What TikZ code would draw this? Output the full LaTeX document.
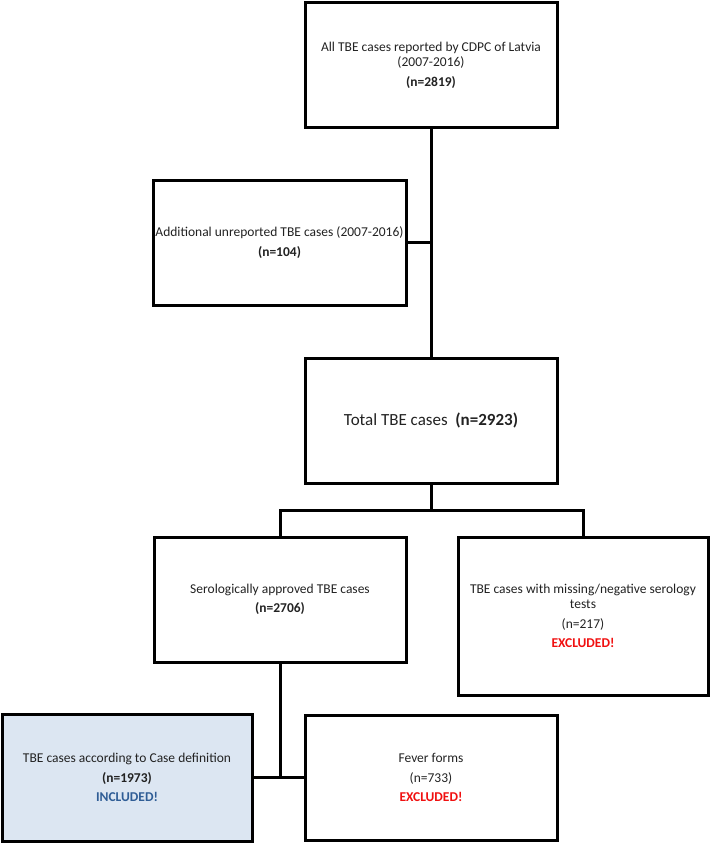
\documentclass[tikz,border=0pt]{standalone}
\usepackage{fontspec}
\setmainfont{Carlito}
\usetikzlibrary{calc}
\definecolor{boxblue}{HTML}{DCE6F2}
\definecolor{incblue}{HTML}{2F5D96}
\definecolor{exred}{HTML}{F01010}
\definecolor{txt}{HTML}{222222}
\begin{document}
\begin{tikzpicture}[x=1pt,y=-1pt,
  box/.style={draw=black, line width=3pt, rectangle, align=center, inner sep=2pt,
    text=txt, font=\fontsize{13.5}{15.5}\selectfont},
  conn/.style={draw=black, line width=3pt}]
\useasboundingbox (0,0) rectangle (711,843);
\node[box, minimum width=252pt, minimum height=124pt] (b1) at (431,65)
  {All TBE cases reported by CDPC of Latvia\\(2007-2016)\\[4pt]\textbf{(n=2819)}};
\node[box, minimum width=253pt, minimum height=125pt, inner sep=0pt] (b2) at (279.5,242.5)
  {Additional unreported TBE cases (2007-2016)\\[4pt]\textbf{(n=104)}};
\node[box, minimum width=252pt, minimum height=125pt, font=\fontsize{17}{20}\selectfont] (b3) at (431,420.5)
  {Total TBE cases\ \ \textbf{(n=2923)}};
\node[box, minimum width=252pt, minimum height=125pt] (b4) at (280,599.5)
  {Serologically approved TBE cases\\[4pt]\textbf{(n=2706)}};
\node[box, minimum width=250pt, minimum height=158pt] (b5) at (583,616)
  {TBE cases with missing/negative serology\\tests\\[4pt](n=217)\\[4pt]{\color{exred}\textbf{EXCLUDED!}}};
\node[box, fill=boxblue, minimum width=250pt, minimum height=127pt] (b6) at (127,777.5)
  {TBE cases according to Case definition\\[4pt]\textbf{(n=1973)}\\[4pt]{\color{incblue}\textbf{INCLUDED!}}};
\node[box, minimum width=252pt, minimum height=125pt] (b7) at (431,777.5)
  {Fever forms\\[4pt](n=733)\\[4pt]{\color{exred}\textbf{EXCLUDED!}}};
\coordinate (j1) at (b1.south |- b2.east);
\coordinate (j2) at (431,510);
\draw[conn] (b1.south) -- (b3.north);
\draw[conn] (b2.east) -- (j1);
\draw[conn] (b3.south) -- (j2);
\draw[conn] (b4.north) -- (b4.north |- j2) -- (b5.north |- j2) -- (b5.north);
\draw[conn] (b4.south) -- (b4.south |- b6.east);
\draw[conn] (b6.east) -- (b7.west);
\end{tikzpicture}
\end{document}
